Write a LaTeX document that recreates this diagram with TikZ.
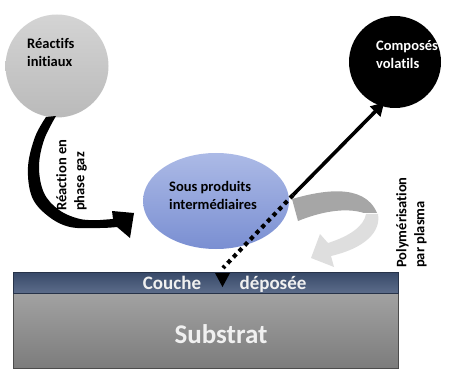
\documentclass[tikz,border=0pt]{standalone}
\usepackage{fontspec}
\setmainfont{Carlito}[Ligatures=NoCommon]
\usetikzlibrary{shapes.geometric,arrows.meta,calc}
\definecolor{reacTop}{RGB}{212,212,212}
\definecolor{reacBot}{RGB}{186,186,186}
\definecolor{ellTop}{RGB}{172,186,230}
\definecolor{ellBot}{RGB}{122,143,210}
\definecolor{layTop}{RGB}{55,73,104}
\definecolor{layBot}{RGB}{92,108,138}
\definecolor{subTop}{RGB}{162,162,162}
\definecolor{subBot}{RGB}{124,124,124}
\definecolor{ribDark}{RGB}{166,166,166}
\definecolor{ribLight}{RGB}{222,222,222}
\begin{document}
\begin{tikzpicture}[x=1pt,y=-1pt,
  lbl/.style={font=\bfseries\fontsize{14.5}{18}\selectfont, align=left, inner sep=0pt},
  barlbl/.style={font=\bfseries\fontsize{19}{22}\selectfont, text=white!94!black, inner sep=0pt},
  bubble/.style={circle, inner sep=0pt, minimum size=#1}]
\useasboundingbox (0,0) rectangle (449,371);

% substrate and deposited layer
\node[draw=black!70, line width=0.6pt, top color=subTop, bottom color=subBot,
      minimum width=385, minimum height=75, inner sep=0pt] (sub) at (205.5,330.5) {};
\node[draw=layTop!70!black, line width=0.6pt, top color=layTop, bottom color=layBot,
      minimum width=385, minimum height=21, inner sep=0pt] (layer) at (205.5,282.5) {};
\node[barlbl, font=\bfseries\fontsize{27}{32}\selectfont] (subtxt) at (221,334) {Substrat};
\node[barlbl] (couche) at (172,283) {Couche};
\node[barlbl] (deposee) at (273,284) {déposée};

% species
\node[bubble=103, top color=reacTop, bottom color=reacBot] (reac) at (57,66) {};
\node[lbl, anchor=north west] (reactxt) at (27,38) {Réactifs\\initiaux};
\node[bubble=92, fill=black] (vol) at (395,62) {};
\node[lbl, text=white, anchor=north west] (voltxt) at (376,40) {Composés\\volatils};
\node[ellipse, inner sep=0pt, minimum width=146, minimum height=96,
      top color=ellTop, bottom color=ellBot] (sp) at (216,201) {};
\node[lbl, anchor=north west] (sptxt) at (169,181) {Sous produits\\intermédiaires};

% gas phase reaction: tapered curved arrow
\fill[black] plot[smooth, tension=0.6] coordinates
    {(46,117) (35,137) (28,167) (32,197) (48,216) (70,227) (100,228) (117,227)}
  -- (130,238) -- (134,213) -- (112,211) -- (113,219)
  -- plot[smooth, tension=0.6] coordinates
    {(100,220) (80,219) (59,210) (44,193) (39,167) (44,140) (56,116)}
  -- cycle;
\node[lbl, rotate=90, anchor=north west] (gaz) at (56,211) {Réaction en\\phase gaz};

% volatile products and deposition
\coordinate (split) at (293,195);
\draw[line width=3.6pt, shorten >=-5pt, -{Triangle[length=13pt,width=14pt]}] (split) -- (vol.252);
\draw[line width=4.2pt, dash pattern=on 4.2pt off 4pt] (split) -- (223,268);
\fill[black] (215,273) -- (230,273) -- (222.5,287) -- cycle;

% plasma polymerisation: curled ribbon arrow
\fill[ribLight] (366,214) -- (378,214)
  .. controls (381,232) and (365,248) .. (331,256)
  -- (334,267) -- (311,258) -- (320,234) -- (328,243)
  .. controls (350,236) and (364,226) .. (366,214) -- cycle;
\fill[ribDark] (292,199) .. controls (320,191) and (364,182) .. (377,213)
  -- (364,213) .. controls (345,207) and (320,212) .. (298,221) -- cycle;
\node[lbl, rotate=90, anchor=north west] (poly) at (396,268) {Polymérisation\\par plasma};
\end{tikzpicture}
\end{document}
